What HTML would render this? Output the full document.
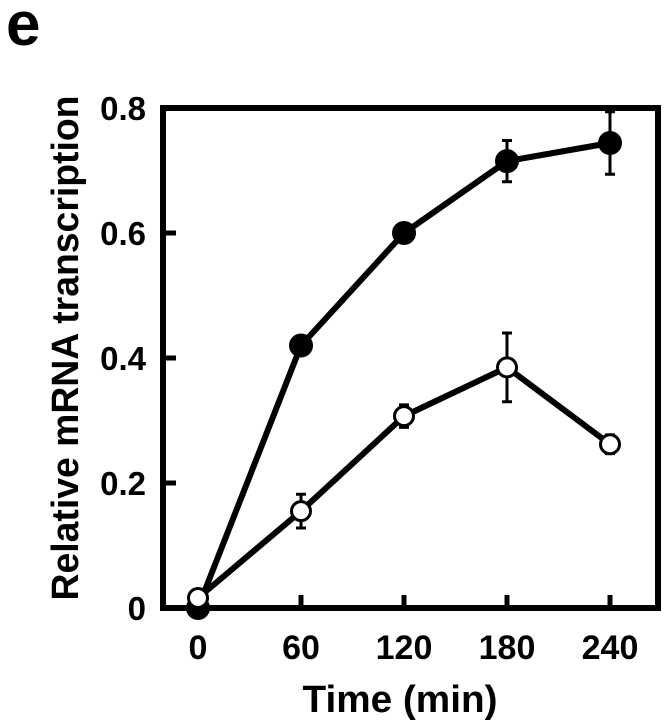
<!DOCTYPE html>
<html><head><meta charset="utf-8"><style>
html,body{margin:0;padding:0;background:#fff;}
svg{display:block;font-family:"Liberation Sans",Arial,sans-serif;font-weight:bold;}
</style></head><body>
<svg id="chart" width="670" height="720" viewBox="0 0 670 720">
<text x="6" y="45" font-size="62">e</text>
<rect x="163" y="108" width="495" height="500" fill="none" stroke="#000" stroke-width="6"/>
<g id="axes"></g>
<g id="series"></g>
<text transform="translate(78,348) rotate(-90)" text-anchor="middle" font-size="38" textLength="505" lengthAdjust="spacingAndGlyphs">Relative mRNA transcription</text>
<text x="400" y="712" text-anchor="middle" font-size="38" textLength="195" lengthAdjust="spacingAndGlyphs">Time (min)</text>
</svg>
<script>
const times = [0, 60, 120, 180, 240];
const xTickLabels = ["0", "60", "120", "180", "240"];
const yTicks = [0, 0.2, 0.4, 0.6, 0.8];
const yTickLabels = ["0", "0.2", "0.4", "0.6", "0.8"];
const filledValues = [0.0, 0.42, 0.60, 0.715, 0.744];
const filledErrors = [0, 0.015, 0.012, 0.033, 0.05];
const openValues = [0.016, 0.155, 0.307, 0.385, 0.262];
const openErrors = [0, 0.027, 0.018, 0.055, 0.015];

const NS = "http://www.w3.org/2000/svg";
function xs(t){ return 198 + t * (412 / 240); }
function ys(v){ return 608 - v * 625; }
function mk(tag, attrs, parent){ const e = document.createElementNS(NS, tag); for (const k in attrs) e.setAttribute(k, attrs[k]); parent.appendChild(e); return e; }
const axes = document.getElementById('axes');
const series = document.getElementById('series');

yTicks.forEach((v, i) => {
  if (v > 0 && v < 0.8) {
    const t = mk('line', {x1:163, x2:176, y1:ys(v), y2:ys(v), stroke:'#000','stroke-width':5}, axes);
    
    
  }
  const l = mk('text', {x:146, y:ys(v)+12, 'text-anchor':'end', 'font-size':33}, axes);
  l.textContent = yTickLabels[i];
  
  
});
times.forEach((t, i) => {
  if (t > 0) {
    const k = mk('line', {x1:xs(t), x2:xs(t), y1:608, y2:595, stroke:'#000','stroke-width':5}, axes);
    
    
  }
  const l = mk('text', {x:xs(t), y:659, 'text-anchor':'middle', 'font-size':34}, axes);
  l.textContent = xTickLabels[i];
  
  
});

function drawSeries(vals, errs, fill, name){
  const g = mk('g', {}, series);
  
  
  vals.forEach((v, i) => {
    if (errs[i] > 0) {
      const x = xs(times[i]);
      const e = mk('path', {d:`M${x},${ys(v+errs[i])}V${ys(v-errs[i])}M${x-5},${ys(v+errs[i])}H${x+5}M${x-5},${ys(v-errs[i])}H${x+5}`, stroke:'#000','stroke-width':3, fill:'none'}, g);
      
      
    }
  });
  const line = mk('polyline', {points: vals.map((v,i)=>xs(times[i])+','+ys(v)).join(' '), fill:'none', stroke:'#000', 'stroke-width':6, 'stroke-linejoin':'round'}, g);
  
  
  vals.forEach((v, i) => {
    const c = mk('circle', {cx:xs(times[i]), cy:ys(v), r:fill==='#000'?10.5:9.5, fill:fill, stroke:'#000', 'stroke-width':3}, g);
    
    
  });
}
drawSeries(filledValues, filledErrors, '#000', 'filled-series');
drawSeries(openValues, openErrors, '#fff', 'open-series');
</script>
</body></html>
